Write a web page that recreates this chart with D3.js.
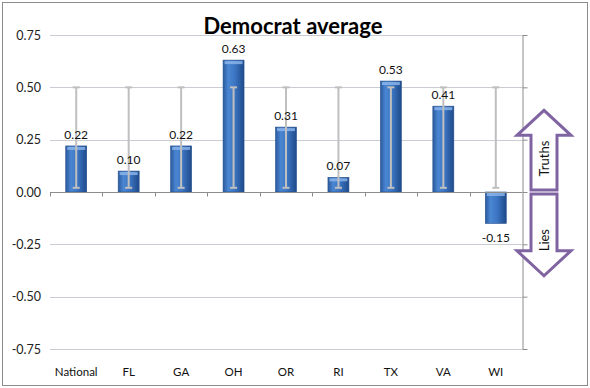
<!DOCTYPE html>
<html>
<head>
<meta charset="utf-8">
<script src="https://cdn.jsdelivr.net/npm/d3@7"></script>
<style>
  body { margin: 0; background: #fff; }
  svg { display: block; font-family: Lato, "Open Sans", sans-serif; }
</style>
</head>
<body>
<svg id="chart" width="590" height="388"></svg>
<script>
// chart data
const states = ["National", "FL", "GA", "OH", "OR", "RI", "TX", "VA", "WI"];
const averages = [0.22, 0.10, 0.22, 0.63, 0.31, 0.07, 0.53, 0.41, -0.15];
const errLow = [0.02, 0.02, 0.02, 0.02, 0.02, 0.02, 0.02, 0.02, 0.02];
const errHigh = [0.5, 0.5, 0.5, 0.5, 0.5, 0.5, 0.5, 0.5, 0.5];
const yTicks = [0.75, 0.5, 0.25, 0, -0.25, -0.5, -0.75];

const data = states.map((s, i) => ({ state: s, value: averages[i], lo: errLow[i], hi: errHigh[i] }));

// excel style numbers with a plain hyphen
const fmt = v => d3.format(".2f")(v).replace("\u2212", "-");

const svg = d3.select("#chart");
const margin = { left: 50, right: 68, top: 35, bottom: 39 };
const width = 590, height = 388;

// chart border
svg.append("rect")
    .attr("x", 2.5).attr("y", 2.5)
    .attr("width", width - 5).attr("height", height - 5)
    .attr("fill", "#fff")
    .attr("stroke", "#8c8c8c");

const x = d3.scaleBand()
    .domain(states)
    .range([margin.left, width - margin.right])
    .paddingInner(0.6)
    .paddingOuter(0.3);

const y = d3.scaleLinear()
    .domain([-0.75, 0.75])
    .range([height - margin.bottom, margin.top]);

// gradient for the bars
const defs = svg.append("defs");
const grad = defs.append("linearGradient").attr("id", "barGrad")
    .attr("x1", "0%").attr("x2", "100%").attr("y1", "0%").attr("y2", "0%");
grad.append("stop").attr("offset", "0%").attr("stop-color", "#2b5a9e");
grad.append("stop").attr("offset", "25%").attr("stop-color", "#4a86d2");
grad.append("stop").attr("offset", "55%").attr("stop-color", "#3d76c4");
grad.append("stop").attr("offset", "100%").attr("stop-color", "#1e4a8a");

// gridlines
svg.append("g")
    .selectAll("line")
    .data(yTicks.filter(t => t !== 0))
    .join("line")
    .attr("x1", margin.left).attr("x2", width - margin.right)
    .attr("y1", d => Math.round(y(d)) + 0.5).attr("y2", d => Math.round(y(d)) + 0.5)
    .attr("stroke", "#c9ccd3");

// left tick labels
const yAxis = svg.append("g")
    .attr("transform", `translate(${margin.left - 9},0)`)
    .call(d3.axisLeft(y).tickValues(yTicks).tickFormat(fmt).tickSize(0).tickPadding(0));
yAxis.select(".domain").remove();
yAxis.selectAll("text")
    .attr("font-size", 12.5)
    .attr("fill", "#222")
    .attr("font-family", "Lato, sans-serif");

// right axis line with outward ticks
const rAxis = svg.append("g")
    .attr("transform", `translate(${width - margin.right + 0.5},0)`)
    .call(d3.axisRight(y).tickValues(yTicks).tickFormat("").tickSize(5).tickSizeOuter(0));
rAxis.selectAll("line, path").attr("stroke", "#8c8c8c");

// bars
svg.append("g")
    .selectAll("rect")
    .data(data)
    .join("rect")
    .attr("x", d => x(d.state))
    .attr("y", d => y(Math.max(0, d.value)))
    .attr("width", x.bandwidth())
    .attr("height", d => Math.abs(y(d.value) - y(0)))
    .attr("fill", "url(#barGrad)")
    .attr("stroke", "#244f8c")
    .attr("stroke-width", 0.6);

// light bevel on top of bars
svg.append("g")
    .selectAll("rect")
    .data(data)
    .join("rect")
    .attr("x", d => x(d.state) + 1.5)
    .attr("y", d => y(Math.max(0, d.value)) + 1)
    .attr("width", x.bandwidth() - 3)
    .attr("height", 3)
    .attr("fill", "#8fb8ec")
    .attr("opacity", 0.8);

// x axis line at zero
const xAxis = svg.append("g")
    .attr("transform", `translate(0,${Math.round(y(0)) + 0.5})`);
xAxis.append("line")
    .attr("x1", margin.left).attr("x2", width - margin.right)
    .attr("stroke", "#8c8c8c");
const step = x.step();
xAxis.selectAll("line.tick")
    .data(d3.range(states.length))
    .join("line")
    .attr("class", "tick")
    .attr("x1", i => Math.round(x(states[i]) - step * 0.3) + 0.5)
    .attr("x2", i => Math.round(x(states[i]) - step * 0.3) + 0.5)
    .attr("y1", 0).attr("y2", 4)
    .attr("stroke", "#8c8c8c");

// error bars
const eb = svg.append("g").attr("stroke", "#bfbfbf").attr("stroke-width", 2);
data.forEach(d => {
    const cx = x(d.state) + x.bandwidth() / 2;
    eb.append("line").attr("x1", cx).attr("x2", cx).attr("y1", y(d.lo)).attr("y2", y(d.hi));
    eb.append("line").attr("x1", cx - 3.5).attr("x2", cx + 3.5).attr("y1", y(d.lo)).attr("y2", y(d.lo));
    eb.append("line").attr("x1", cx - 3.5).attr("x2", cx + 3.5).attr("y1", y(d.hi)).attr("y2", y(d.hi));
});

// value labels
svg.append("g")
    .selectAll("text")
    .data(data)
    .join("text")
    .attr("x", d => x(d.state) + x.bandwidth() / 2)
    .attr("y", d => d.value >= 0 ? y(d.value) - 7 : y(d.value) + 19)
    .attr("text-anchor", "middle")
    .attr("font-size", 12)
    .attr("fill", "#111")
    .text(d => fmt(d.value));

// category labels
svg.append("g")
    .selectAll("text")
    .data(states)
    .join("text")
    .attr("x", d => x(d) + x.bandwidth() / 2)
    .attr("y", 376)
    .attr("text-anchor", "middle")
    .attr("font-size", 11.5)
    .attr("fill", "#111")
    .text(d => d);

// title
svg.append("text")
    .attr("x", 293).attr("y", 34)
    .attr("text-anchor", "middle")
    .attr("font-size", 22)
    .attr("font-weight", "bold")
    .attr("fill", "#000")
    .text("Democrat average");

// truths / lies arrows
const ax = 544, shaftHalf = 13, headHalf = 27, headLen = 25;
function arrowPath(yBase, yTip) {
    const dir = yTip < yBase ? -1 : 1;
    const yHead = yTip - dir * headLen;
    return `M${ax - shaftHalf},${yBase} L${ax - shaftHalf},${yHead} L${ax - headHalf},${yHead} ` +
        `L${ax},${yTip} L${ax + headHalf},${yHead} L${ax + shaftHalf},${yHead} L${ax + shaftHalf},${yBase} Z`;
}
const arrows = svg.append("g");
arrows.append("path")
    .attr("d", arrowPath(y(0.01), y(0.39)))
    .attr("fill", "#fff").attr("stroke", "#8064a2").attr("stroke-width", 3);
arrows.append("path")
    .attr("d", arrowPath(y(-0.01), y(-0.40)))
    .attr("fill", "#fff").attr("stroke", "#8064a2").attr("stroke-width", 3);
arrows.append("text")
    .attr("transform", `translate(${ax + 5},${y(0.16)}) rotate(-90)`)
    .attr("text-anchor", "middle")
    .attr("font-size", 13)
    .attr("fill", "#111")
    .text("Truths");
arrows.append("text")
    .attr("transform", `translate(${ax + 5},${y(-0.23)}) rotate(-90)`)
    .attr("text-anchor", "middle")
    .attr("font-size", 13)
    .attr("fill", "#111")
    .text("Lies");
</script>
</body>
</html>
